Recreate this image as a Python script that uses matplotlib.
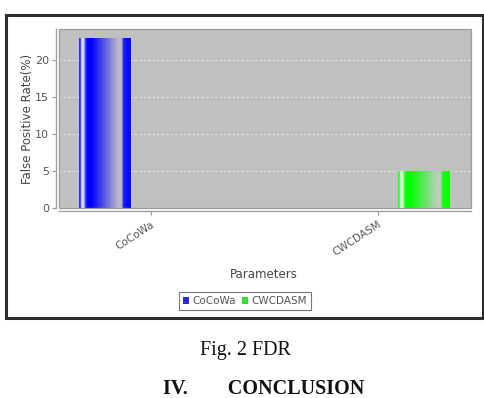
import numpy as np
import matplotlib
matplotlib.use("Agg")
import matplotlib.pyplot as plt
from matplotlib.patches import Rectangle, Patch

# ---- data ----
categories = ["CoCoWa", "CWCDASM"]
series_names = ["CoCoWa", "CWCDASM"]
cocowa_values = [23.0, 0.0]
cwcdasm_values = [0.0, 5.0]
y_ticks = [0, 5, 10, 15, 20]
y_label = "False Positive Rate(%)"
x_label = "Parameters"
caption = "Fig. 2 FDR"
section = "IV.        CONCLUSION"

W, H = 484, 398
fig = plt.figure(figsize=(W / 100, H / 100), dpi=100)
fig.patch.set_facecolor("white")

def fx(px):
    return px / W

def fy(py):
    return 1 - py / H

# window frame
frame = Rectangle((fx(6), fy(318)), fx(483) - fx(6), fy(15) - fy(318),
                  transform=fig.transFigure, facecolor="white",
                  edgecolor="#2c2c2c", linewidth=2.2, zorder=-5)
fig.patches.append(frame)

ax = fig.add_axes([fx(59), fy(208), fx(471) - fx(59), fy(29) - fy(208)])
ax.set_zorder(2)
ax.set_facecolor("#c0c0c0")

for s in ["top", "right"]:
    ax.spines[s].set_visible(False)
for s in ["left", "bottom"]:
    ax.spines[s].set_color("#a0a0a0")
    ax.spines[s].set_linewidth(1.0)
    ax.spines[s].set_position(("outward", 2.2))

x = np.arange(len(categories))
offset = 0.2026
bw = 0.229

base_colors = {"CoCoWa": (0, 0, 255), "CWCDASM": (0, 255, 0)}


def grad_image(base):
    b = np.array(base, dtype=float)
    white = np.array([255, 255, 255], float)
    gray = np.array([186, 186, 200], float) if base[2] > 0 else np.array([190, 205, 190], float)

    def mix(c1, c2, t):
        return c1 * (1 - t) + c2 * t

    stops = [
        (0.00, mix(b, white, 0.15)),
        (0.03, mix(b, white, 0.25)),
        (0.05, mix(b, white, 0.88)),
        (0.09, mix(b, white, 0.85)),
        (0.12, mix(b, white, 0.25)),
        (0.16, b),
        (0.24, b),
        (0.76, gray),
        (0.82, gray),
        (0.86, mix(b, white, 0.1)),
        (1.00, b),
    ]
    n = 260
    t = np.linspace(0, 1, n)
    ts = [s[0] for s in stops]
    img = np.zeros((1, n, 3))
    for k in range(3):
        img[0, :, k] = np.interp(t, ts, [s[1][k] for s in stops])
    return img / 255.0


for i, (name, vals) in enumerate(zip(series_names, [cocowa_values, cwcdasm_values])):
    pos = x + (-offset if i == 0 else offset)
    bars = ax.bar(pos, vals, width=bw, color="none", edgecolor="none", zorder=3)
    img = grad_image(base_colors[name])
    for b in bars:
        if b.get_height() <= 0:
            continue
        x0, w, h = b.get_x(), b.get_width(), b.get_height()
        im = ax.imshow(img, extent=(x0, x0 + w, 0, h), aspect="auto",
                       interpolation="bilinear", zorder=3)
        im.set_clip_path(b)

ax.set_xlim(-0.405, 1.41)
ax.set_ylim(0, 24.2)

ax.set_yticks(y_ticks)
ax.set_xticks(x)
ax.set_xticklabels(categories)
ax.tick_params(axis="both", colors="#9a9a9a", labelcolor="#555555",
               labelsize=8, length=3, width=0.8)
ax.tick_params(axis="x", labelsize=7.5, pad=3, labelrotation=33)
ax.tick_params(axis="y", pad=2)
for lbl in ax.get_xticklabels():
    lbl.set_ha("right")
    lbl.set_va("top")
    lbl.set_rotation_mode("anchor")

ax.yaxis.grid(True, color="#e2e2e2", linestyle=(0, (2, 2)), linewidth=0.8)
ax.set_axisbelow(True)

ax.add_patch(Rectangle((0, 0), 1, 1, transform=ax.transAxes, fill=False,
                       edgecolor="#9c9c9c", linewidth=0.9, zorder=5,
                       clip_on=False))

ax.set_ylabel(y_label, fontsize=8.5, color="#444444")
ax.yaxis.set_label_coords(-0.061, 0.497)
ax.set_xlabel(x_label, fontsize=8.5, color="#444444")
ax.xaxis.set_label_coords(0.4976, -0.335)

handles = [Patch(facecolor="#2a2ad8", edgecolor="none"),
           Patch(facecolor="#33dd33", edgecolor="none")]
leg = fig.legend(handles, series_names, loc="center",
                 bbox_to_anchor=(fx(245), fy(301)), fontsize=7.5,
                 frameon=True, fancybox=False, ncol=2, handlelength=0.6,
                 handleheight=0.6, handletextpad=0.3, columnspacing=0.6,
                 borderpad=0.35, labelcolor="#555555")
leg.get_frame().set_edgecolor("#555555")
leg.get_frame().set_linewidth(0.8)

fig.text(fx(246), fy(350), caption, ha="center", va="center",
         family="Liberation Serif", fontsize=14.5, color="#111111")
fig.text(fx(264), fy(394), section, ha="center", va="baseline",
         family="Liberation Serif", fontsize=14.5, fontweight="bold",
         color="#111111")

fig.savefig("out.png", dpi=100)
